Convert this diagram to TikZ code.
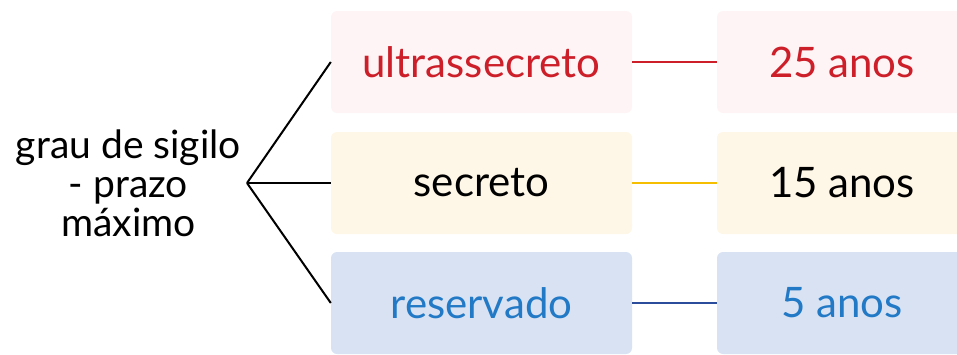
\documentclass[tikz,border=0pt]{standalone}
\usepackage{fontspec}
\setmainfont{Lato}
\definecolor{ultrafill}{HTML}{FFF4F5}
\definecolor{secrfill}{HTML}{FEF7E7}
\definecolor{reservfill}{HTML}{D9E2F3}
\definecolor{ultratext}{HTML}{CC1F2A}
\definecolor{reservtext}{HTML}{2279C6}
\definecolor{secrline}{HTML}{F5BE00}
\definecolor{reservline}{HTML}{2B4C9B}
\tikzset{
  levelbox/.style={rounded corners=6pt, minimum width=301pt, minimum height=102pt, font=\fontsize{42}{44}\selectfont},
  termbox/.style={rounded corners=6pt, minimum width=250pt, minimum height=102pt, font=\fontsize{42}{44}\selectfont},
  branch/.style={line width=2pt}
}

\begin{document}
\begin{tikzpicture}[x=1pt,y=-1pt]
\useasboundingbox (0,0) rectangle (957,354);
% Root
\node [anchor=east, align=center, inner sep=6pt, font=\fontsize{39}{39}\selectfont] (root) at (247,183) {grau de sigilo\\- prazo\\máximo};
% Levels
\node [levelbox, fill=ultrafill, text=ultratext] (ultra) at (481.5,62) {ultrassecreto};
\node [levelbox, fill=secrfill, text=black] (secr) at (481.5,183) {secreto};
\node [levelbox, fill=reservfill, text=reservtext] (reserv) at (481.5,303) {reservado};
% Terms
\node [termbox, fill=ultrafill, text=ultratext] (t25) at (842,62) {25 anos};
\node [termbox, fill=secrfill, text=black] (t15) at (842,183) {15 anos};
\node [termbox, fill=reservfill, text=reservtext] (t5) at (842,303) {5 anos};
% Fork
\draw [branch, black] (root.east) -- (ultra.west);
\draw [branch, black] (root.east) -- (secr.west);
\draw [branch, black] (root.east) -- (reserv.west);
% Links
\draw [branch, ultratext] (ultra.east) -- (t25.west);
\draw [branch, secrline] (secr.east) -- (t15.west);
\draw [branch, reservline] (reserv.east) -- (t5.west);
\end{tikzpicture}
\end{document}
